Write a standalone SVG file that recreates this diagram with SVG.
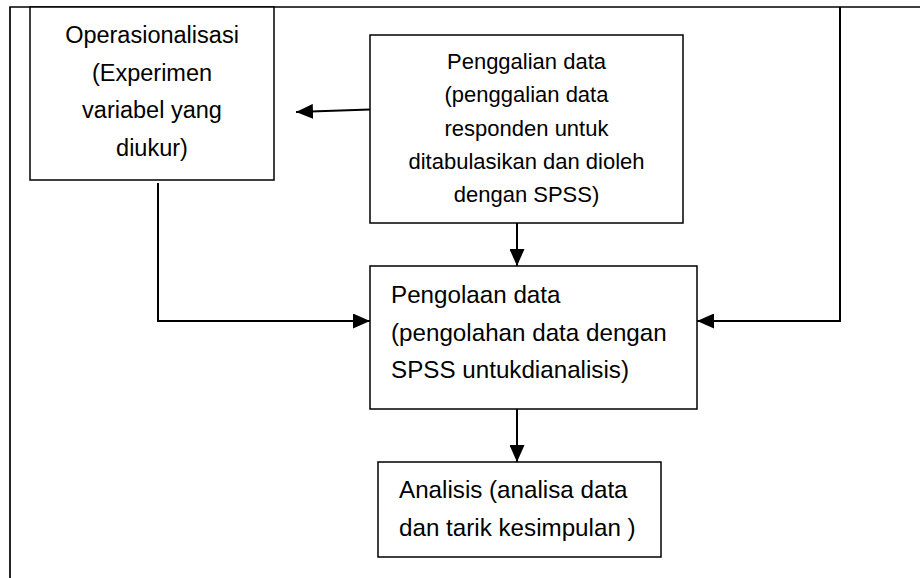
<svg xmlns="http://www.w3.org/2000/svg" width="920" height="578" viewBox="0 0 920 578">
<style>
.box{fill:#fff;stroke:#000;stroke-width:1.5}
.ln{fill:none;stroke:#000;stroke-width:2}
.fr{fill:none;stroke:#000;stroke-width:1.7}
text{font-family:"Liberation Sans",Arial,sans-serif;font-size:23.5px;fill:#000}
.c{text-anchor:middle}
.s{font-size:22px}
.l{font-size:24.2px}
</style>
<defs>
<marker id="ah" markerUnits="userSpaceOnUse" markerWidth="17" markerHeight="15" refX="17" refY="7.5" orient="auto">
<path d="M0,0 L17,7.5 L0,15 Z" fill="#000"/>
</marker>
</defs>
<rect width="920" height="578" fill="#fff"/>
<g id="frame">
<path class="fr" d="M920,7 H10 V578"/>
</g>
<g id="connectors">
<path class="ln" d="M370,109.5 L296,112" marker-end="url(#ah)"/>
<path class="ln" d="M517,223 V266" marker-end="url(#ah)"/>
<path class="ln" d="M158,183 V321 H370" marker-end="url(#ah)"/>
<path class="ln" d="M840,7 V321 H697" marker-end="url(#ah)"/>
<path class="ln" d="M517,409 V462" marker-end="url(#ah)"/>
</g>
<g id="operasionalisasi">
<rect class="box" x="30" y="7" width="244" height="173"/>
<text class="c" x="152" y="43">Operasionalisasi</text>
<text class="c" x="152" y="81">(Experimen</text>
<text class="c" x="152" y="118">variabel yang</text>
<text class="c" x="152" y="156">diukur)</text>
</g>
<g id="penggalian">
<rect class="box" x="370" y="35" width="313" height="188"/>
<text class="c s" x="526.5" y="69">Penggalian data</text>
<text class="c s" x="526.5" y="102">(penggalian data</text>
<text class="c s" x="526.5" y="135.5">responden untuk</text>
<text class="c s" x="526.5" y="169">ditabulasikan dan dioleh</text>
<text class="c s" x="526.5" y="202">dengan SPSS)</text>
</g>
<g id="pengolaan">
<rect class="box" x="370" y="266" width="327" height="143"/>
<text class="l" x="391" y="303">Pengolaan data</text>
<text class="l" x="391" y="341">(pengolahan data dengan</text>
<text class="l" x="391" y="378">SPSS untukdianalisis)</text>
</g>
<g id="analisis">
<rect class="box" x="378" y="462" width="283" height="95"/>
<text class="l" x="399" y="498">Analisis (analisa data</text>
<text class="l" x="399" y="536">dan tarik kesimpulan )</text>
</g>
</svg>
